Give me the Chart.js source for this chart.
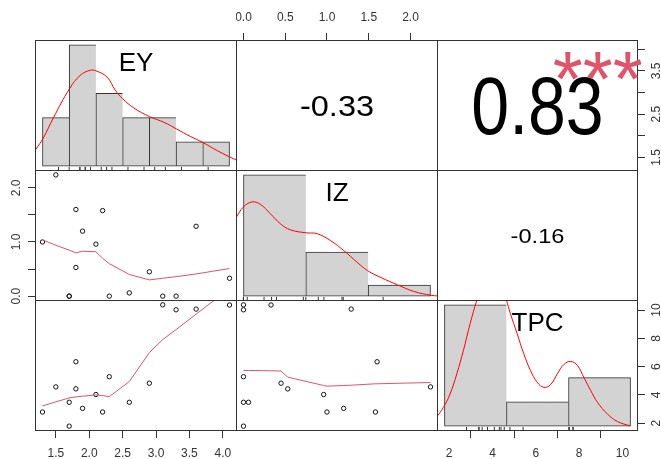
<!DOCTYPE html>
<html><head><meta charset="utf-8">
<script src="https://cdn.jsdelivr.net/npm/chart.js@4.4.1/dist/chart.umd.min.js"></script>
<style>
html,body{margin:0;padding:0;background:#fff;}
#wrap{position:relative;width:661px;height:459px;overflow:hidden;background:#fff;}
</style></head><body><div id="wrap"></div>
<script>
// ---------------- data ----------------
const VARS = ['EY', 'IZ', 'TPC'];
const EY  = [1.3, 1.5, 1.7, 1.7, 1.8, 1.8, 1.9, 2.1, 2.2, 2.3, 2.6, 2.9, 3.1, 3.3, 3.6, 4.1];
const IZ  = [1.0, 2.24, 0, 0, 1.6, 0.53, 1.2, 0.96, 1.58, 0, 0.06, 0.45, 0, 0, 1.29, 0.33];
const TPC = [2.78, 4.56, 3.47, 1.78, 6.34, 4.42, 3.04, 4.02, 2.78, 5.28, 3.47, 4.82, 10.37, 10.02, 10.07, 10.36];

const EY_BREAKS  = [1.0, 1.5, 2.0, 2.5, 3.0, 3.5, 4.0, 4.5];
const EY_COUNTS  = [2, 5, 3, 2, 2, 1, 1];
const IZ_BREAKS  = [0, 1, 2, 3];
const IZ_COUNTS  = [11, 4, 1];
const TPC_BREAKS = [0, 5, 10, 15];
const TPC_COUNTS = [10, 2, 4];

// density curves (x in variable units, y = density)
const EY_DENS_X = [0.80, 0.879, 1.016, 1.204, 1.506, 1.706, 1.894, 2.001, 2.208, 2.365, 2.502, 2.709, 3.004, 3.273, 3.506, 3.775, 4.001, 4.277, 4.590, 4.70];
const EY_DENS_Y = [0.056, 0.088, 0.145, 0.249, 0.399, 0.468, 0.494, 0.491, 0.459, 0.390, 0.347, 0.300, 0.255, 0.226, 0.192, 0.152, 0.122, 0.079, 0.036, 0.024];
const IZ_DENS_X = [-0.20, -0.119, -0.002, 0.134, 0.268, 0.429, 0.590, 0.751, 1.004, 1.181, 1.396, 1.610, 1.826, 1.992, 2.202, 2.471, 2.739, 3.008, 3.116];
const IZ_DENS_Y = [0.400, 0.445, 0.505, 0.534, 0.521, 0.468, 0.411, 0.376, 0.359, 0.354, 0.315, 0.258, 0.191, 0.144, 0.106, 0.064, 0.026, 0.005, 0.001];
const TPC_DENS_X = [-0.9, -0.68, -0.089, 0.454, 0.996, 1.531, 2.074, 2.616, 3.1, 3.6, 4.1, 4.6, 4.99, 5.31, 5.856, 6.391, 6.933, 7.476, 8.011, 8.553, 9.096, 9.631, 10.174, 10.716, 11.251, 11.794, 12.336, 13.146, 13.956, 14.977];
const TPC_DENS_Y = [0.006, 0.0088, 0.0192, 0.0331, 0.0539, 0.0781, 0.1058, 0.130, 0.147, 0.155, 0.153, 0.142, 0.130, 0.1162, 0.0955, 0.0747, 0.0574, 0.0452, 0.0400, 0.0428, 0.0539, 0.0636, 0.0667, 0.0626, 0.0498, 0.0366, 0.0245, 0.0124, 0.0047, 0.0002];

// smoothing lines in the scatter panels
const SM_EY_IZ_X  = [1.3, 1.5, 1.7, 1.8, 1.9, 2.1, 2.2, 2.3, 2.6, 2.9, 3.1, 3.3, 3.6, 4.1];
const SM_EY_IZ_Y  = [1.04, 0.94, 0.85, 0.80, 0.83, 0.82, 0.70, 0.60, 0.40, 0.30, 0.33, 0.36, 0.41, 0.51];
const SM_EY_TPC_X = [1.3, 1.5, 1.7, 1.8, 1.9, 2.1, 2.2, 2.3, 2.6, 2.9, 3.1, 3.3, 3.6, 4.1];
const SM_EY_TPC_Y = [3.21, 3.50, 3.78, 3.85, 3.90, 3.99, 3.94, 3.87, 4.94, 6.99, 7.91, 8.62, 9.71, 11.53];
const SM_IZ_TPC_X = [0, 0.06, 0.33, 0.45, 0.53, 0.96, 1.0, 1.2, 1.29, 1.58, 1.6, 2.24];
const SM_IZ_TPC_Y = [5.72, 5.72, 5.70, 5.68, 5.25, 4.66, 4.61, 4.66, 4.68, 4.78, 4.78, 4.87];

// correlation texts (EY-IZ, EY-TPC, IZ-TPC)
const CORR_TEXT = ['-0.33', '0.83', '-0.16'];
const SIG_TEXT  = ['', '***', ''];

// tick values / labels
const EY_TICKS = [1.5, 2.0, 2.5, 3.0, 3.5, 4.0];
const EY_BOTTOM_LABELS = ['1.5', '2.0', '2.5', '3.0', '3.5', '4.0'];
const EY_RIGHT_LABELS  = ['1.5', '', '2.5', '', '3.5', ''];
const IZ_TICKS = [0, 0.5, 1.0, 1.5, 2.0];
const IZ_TOP_LABELS  = ['0.0', '0.5', '1.0', '1.5', '2.0'];
const IZ_LEFT_LABELS = ['0.0', '', '1.0', '', '2.0'];
const TPC_TICKS  = [2, 4, 6, 8, 10];
const TPC_LABELS = ['2', '4', '6', '8', '10'];

// ---------------- layout / style ----------------
const FONT = '"Liberation Sans", Arial, Helvetica, sans-serif';
const W = 661, H = 459;
const BX = [35, 236, 437, 637];
const BY = [40, 170, 300, 430];
const AX = '#333';
const LINE_COL = '#333';
const SMOOTH_COL = '#DF536B';
const DENS_COL = '#FF0000';
const HIST_FILL = '#D3D3D3';

const wrap = document.getElementById('wrap');
const pw = c => BX[c + 1] - BX[c] + 1;
const ph = r => BY[r + 1] - BY[r] + 1;
const LEFT_AX = BX[0], TOP_AX = BY[0], RIGHT_AX = W - (BX[3] + 1), BOTTOM_AX = H - (BY[3] + 1);

function ext(a) { const mn = Math.min(...a), mx = Math.max(...a), d = (mx - mn) * 0.04; return [mn - d, mx + d]; }
const RNG = { EY: ext(EY), IZ: ext(IZ), TPC: ext(TPC) };

function hidden(min, max, tickVals) {
  const s = { type: 'linear', display: false, min, max, bounds: 'data', offset: false };
  if (tickVals) s.afterBuildTicks = sc => { sc.ticks = tickVals.map(v => ({ value: v })); };
  return s;
}
function shownAxis(pos, range, ticks, labels, size, pad) {
  const vertical = (pos === 'left' || pos === 'right');
  return {
    type: 'linear', display: true, position: pos, min: range[0], max: range[1], bounds: 'data', offset: false,
    afterBuildTicks: s => { s.ticks = ticks.map(v => ({ value: v })); },
    afterFit: s => {
      if (vertical) s.width = size; else s.height = size;
      s.paddingTop = 0; s.paddingBottom = 0; s.paddingLeft = 0; s.paddingRight = 0;
    },
    grid: { display: true, drawOnChartArea: false, drawTicks: true, tickLength: 7, tickWidth: 1, tickColor: AX, color: AX },
    border: { display: false },
    ticks: {
      autoSkip: false, padding: pad, color: AX, font: { family: FONT, size: 12 },
      minRotation: vertical ? 90 : 0, maxRotation: vertical ? 90 : 0,
      crossAlign: vertical ? 'center' : 'near',
      callback: (v, i) => labels[i]
    }
  };
}
const xy = (xs, ys) => xs.map((x, i) => ({ x, y: ys[i] }));

// ---------------- plugins ----------------
Chart.register({
  id: 'frame',
  afterDatasetsDraw(chart) {
    const a = chart.chartArea, ctx = chart.ctx;
    ctx.save();
    ctx.strokeStyle = LINE_COL; ctx.lineWidth = 1;
    ctx.strokeRect(a.left + 0.5, a.top + 0.5, a.right - a.left - 1, a.bottom - a.top - 1);
    ctx.restore();
  }
});
Chart.register({
  id: 'ptext',
  afterDraw(chart, args, opts) {
    const items = (opts && opts.items) || [];
    if (!items.length) return;
    const ctx = chart.ctx, xs = chart.scales.xt, ys = chart.scales.yt;
    items.forEach(it => {
      ctx.save();
      ctx.font = it.size + 'px ' + FONT;
      ctx.fillStyle = it.color || '#000';
      ctx.textAlign = 'center';
      ctx.textBaseline = 'alphabetic';
      const m = ctx.measureText(it.text);
      const x = xs.getPixelForValue(it.x), y = ys.getPixelForValue(it.y);
      const by = y + (m.actualBoundingBoxAscent - m.actualBoundingBoxDescent) / 2;
      ctx.translate(x, by);
      ctx.scale(it.sx || 1, 1);
      ctx.fillText(it.text, 0, 0);
      ctx.restore();
    });
  }
});

function makeChart(left, top, w, h, config, padBottom) {
  const pb = padBottom || 0;
  const c = document.createElement('canvas');
  c.width = w; c.height = h + pb;
  c.style.cssText = 'position:absolute;left:' + left + 'px;top:' + top + 'px;width:' + w + 'px;height:' + (h + pb) + 'px';
  wrap.appendChild(c);
  const o = config.options || {};
  o.responsive = false; o.animation = false; o.devicePixelRatio = 1; o.events = [];
  o.layout = { padding: { top: 0, left: 0, right: 0, bottom: pb }, autoPadding: false };
  o.plugins = Object.assign({ legend: { display: false }, tooltip: { enabled: false } }, o.plugins || {});
  config.options = o;
  return new Chart(c.getContext('2d'), config);
}

// ---------------- diagonal histogram panels ----------------
function histConfig(vals, breaks, counts, dX, dY, label, extraScales) {
  const n = vals.length, bw = breaks[1] - breaks[0];
  const dens = counts.map(k => k / (n * bw));
  const maxD = Math.max(...dens);
  const b0 = breaks[0], bN = breaks[breaks.length - 1], e = (bN - b0) * 0.04;
  const last = counts.length - 1;
  const scales = Object.assign({
    xh: hidden(b0 - e, bN + e, breaks), yh: hidden(-0.04 * maxD, 1.04 * maxD),
    yr: hidden(0, 1), xt: hidden(0, 1), yt: hidden(0, 1)
  }, extraScales || {});
  return {
    type: 'bar',
    data: {
      datasets: [
        { type: 'bar', order: 3, xAxisID: 'xh', yAxisID: 'yh',
          data: counts.map((k, i) => ({ x: (breaks[i] + breaks[i + 1]) / 2, y: dens[i] })),
          backgroundColor: HIST_FILL, borderColor: LINE_COL,
          borderWidth: counts.map((k, i) => ({ top: 1, left: 1, bottom: 1, right: i === last ? 1 : 0 })),
          borderSkipped: false, barPercentage: 1, categoryPercentage: 1 },
        { type: 'line', order: 2, xAxisID: 'xh', yAxisID: 'yh', data: xy(dX, dY),
          borderColor: DENS_COL, borderWidth: 1, pointRadius: 0, tension: 0.4, fill: false },
        { type: 'scatter', order: 1, xAxisID: 'xh', yAxisID: 'yr', data: vals.map(v => ({ x: v, y: 0.016 })),
          pointStyle: 'line', rotation: 90, radius: 2, borderWidth: 1, borderColor: LINE_COL, showLine: false }
      ]
    },
    options: { scales, plugins: { ptext: { items: [{ x: 0.5, y: 0.8333, text: label, size: 26 }] } } }
  };
}

// ---------------- scatter panels ----------------
function scatterConfig(xv, yv, sx, sy, scales) {
  return {
    type: 'scatter',
    data: {
      datasets: [
        { type: 'line', order: 1, xAxisID: 'x', yAxisID: 'y', data: xy(sx, sy),
          borderColor: SMOOTH_COL, borderWidth: 1, pointRadius: 0, tension: 0, fill: false },
        { type: 'scatter', order: 2, xAxisID: 'x', yAxisID: 'y', data: xy(xv, yv),
          pointStyle: 'circle', radius: 2.2, borderWidth: 1, borderColor: '#111', backgroundColor: 'rgba(0,0,0,0)' }
      ]
    },
    options: { scales }
  };
}

function textConfig(items, extraScales) {
  return {
    type: 'scatter',
    data: { datasets: [] },
    options: {
      scales: Object.assign({ xt: hidden(0, 1), yt: hidden(0, 1) }, extraScales || {}),
      plugins: { ptext: { items } }
    }
  };
}

// Row 1
makeChart(BX[0], BY[0], pw(0), ph(0),
  histConfig(EY, EY_BREAKS, EY_COUNTS, EY_DENS_X, EY_DENS_Y, VARS[0]));
makeChart(BX[1], 0, pw(1), TOP_AX + ph(0),
  textConfig([{ x: 0.5, y: 0.5, text: CORR_TEXT[0], size: 29, sx: 1.12 }],
    { xI: shownAxis('top', RNG.IZ, IZ_TICKS, IZ_TOP_LABELS, TOP_AX, 8.3) }));
makeChart(BX[2], BY[0], pw(2) + RIGHT_AX, ph(0),
  textConfig([{ x: 0.5, y: 0.5, text: CORR_TEXT[1], size: 81, sx: 0.84 },
              { x: 0.8, y: 0.8, text: SIG_TEXT[1], size: 77, color: SMOOTH_COL }],
    { yE: shownAxis('right', RNG.EY, EY_TICKS, EY_RIGHT_LABELS, RIGHT_AX, 3.2) }));

// Row 2
makeChart(0, BY[1], LEFT_AX + pw(0), ph(1),
  scatterConfig(EY, IZ, SM_EY_IZ_X, SM_EY_IZ_Y, {
    x: hidden(RNG.EY[0], RNG.EY[1]),
    y: shownAxis('left', RNG.IZ, IZ_TICKS, IZ_LEFT_LABELS, LEFT_AX, 3)
  }), 12);
makeChart(BX[1], BY[1], pw(1), ph(1),
  histConfig(IZ, IZ_BREAKS, IZ_COUNTS, IZ_DENS_X, IZ_DENS_Y, VARS[1]));
makeChart(BX[2], BY[1], pw(2), ph(1),
  textConfig([{ x: 0.5, y: 0.5, text: CORR_TEXT[2], size: 20, sx: 1.18 }]));

// Row 3
makeChart(BX[0], BY[2], pw(0), ph(2) + BOTTOM_AX,
  scatterConfig(EY, TPC, SM_EY_TPC_X, SM_EY_TPC_Y, {
    x: shownAxis('bottom', RNG.EY, EY_TICKS, EY_BOTTOM_LABELS, BOTTOM_AX, 8.3),
    y: hidden(RNG.TPC[0], RNG.TPC[1])
  }));
makeChart(BX[1], BY[2], pw(1), ph(2),
  scatterConfig(IZ, TPC, SM_IZ_TPC_X, SM_IZ_TPC_Y, {
    x: hidden(RNG.IZ[0], RNG.IZ[1]),
    y: hidden(RNG.TPC[0], RNG.TPC[1])
  }));
makeChart(BX[2], BY[2], pw(2) + RIGHT_AX, ph(2) + BOTTOM_AX,
  histConfig(TPC, TPC_BREAKS, TPC_COUNTS, TPC_DENS_X, TPC_DENS_Y, VARS[2], {
    xT: shownAxis('bottom', RNG.TPC, TPC_TICKS, TPC_LABELS, BOTTOM_AX, 8.3),
    yT: shownAxis('right', RNG.TPC, TPC_TICKS, TPC_LABELS, RIGHT_AX, 5)
  }));
</script>
</body></html>
